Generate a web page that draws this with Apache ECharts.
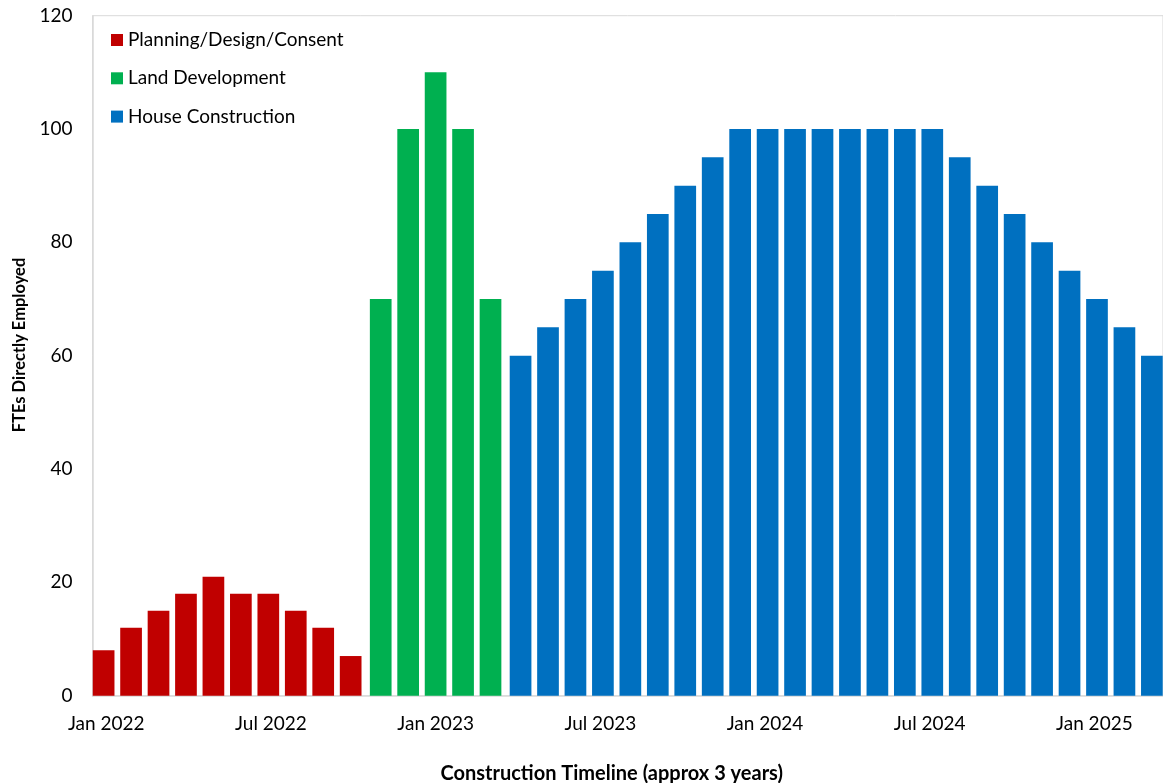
<!DOCTYPE html>
<html>
<head>
<meta charset="utf-8">
<title>FTEs Directly Employed</title>
<script src="https://cdn.jsdelivr.net/npm/echarts@6/dist/echarts.min.js"></script>
<style>
  html, body { margin: 0; padding: 0; background: #fff; }
  #chart { width: 1163px; height: 783px; }
</style>
</head>
<body>
<div id="chart"></div>
<script>
// Monthly timeline, Jan 2022 – Mar 2025
const months = [
  'Jan 2022','Feb 2022','Mar 2022','Apr 2022','May 2022','Jun 2022',
  'Jul 2022','Aug 2022','Sep 2022','Oct 2022','Nov 2022','Dec 2022',
  'Jan 2023','Feb 2023','Mar 2023','Apr 2023','May 2023','Jun 2023',
  'Jul 2023','Aug 2023','Sep 2023','Oct 2023','Nov 2023','Dec 2023',
  'Jan 2024','Feb 2024','Mar 2024','Apr 2024','May 2024','Jun 2024',
  'Jul 2024','Aug 2024','Sep 2024','Oct 2024','Nov 2024','Dec 2024',
  'Jan 2025','Feb 2025','Mar 2025'
];

// FTEs per phase (each phase starts where the previous one ends)
const planningStart = 0;
const planning = [8, 12, 15, 18, 21, 18, 18, 15, 12, 7];
const landStart = 10;
const land = [70, 100, 110, 100, 70];
const houseStart = 15;
const house = [60, 65, 70, 75, 80, 85, 90, 95,
               100, 100, 100, 100, 100, 100, 100, 100,
               95, 90, 85, 80, 75, 70, 65, 60];

const yTicks = { min: 0, max: 120, interval: 20 };

function place(values, start) {
  const out = months.map(() => null);
  values.forEach((v, i) => { out[start + i] = v; });
  return out;
}

const FONT = 'Lato';
const chart = echarts.init(document.getElementById('chart'), null, { renderer: 'canvas' });

const barCommon = {
  type: 'bar',
  barWidth: 21.7,
  barGap: '-88%',
  animation: false
};

chart.setOption({
  backgroundColor: '#ffffff',
  textStyle: { fontFamily: FONT },
  grid: {
    left: 92.5, right: -8.6, top: 15.7, bottom: 87.3,
    show: true, borderColor: '#d9d9d9', borderWidth: 1,
    containLabel: false
  },
  legend: {
    orient: 'vertical',
    left: 111, top: 30,
    padding: 0,
    icon: 'rect',
    itemWidth: 12, itemHeight: 12,
    itemGap: 18.3,
    textStyle: { fontFamily: FONT, fontSize: 19, color: '#000', lineHeight: 20 },
    data: ['Planning/Design/Consent', 'Land Development', 'House Construction']
  },
  xAxis: {
    type: 'category',
    data: months,
    axisTick: { show: false },
    axisLine: { lineStyle: { color: '#d9d9d9', width: 1.5 } },
    axisLabel: { interval: 5, fontFamily: FONT, fontSize: 19, color: '#000', margin: 19 }
  },
  yAxis: {
    type: 'value',
    min: yTicks.min, max: yTicks.max, interval: yTicks.interval,
    axisLine: { show: true, lineStyle: { color: '#d9d9d9', width: 1.5 } },
    axisTick: { show: false },
    splitLine: { show: false },
    axisLabel: { fontFamily: FONT, fontSize: 19, color: '#000', margin: 20 }
  },
  series: [
    Object.assign({}, barCommon, {
      name: 'Planning/Design/Consent',
      data: place(planning, planningStart),
      itemStyle: { color: '#C00000' }
    }),
    Object.assign({}, barCommon, {
      name: 'Land Development',
      data: place(land, landStart),
      itemStyle: { color: '#00B050' }
    }),
    Object.assign({}, barCommon, {
      name: 'House Construction',
      data: place(house, houseStart),
      itemStyle: { color: '#0070C0' }
    })
  ],
  graphic: [
    {
      type: 'text',
      x: 19.5, y: 345,
      rotation: Math.PI / 2,
      style: {
        text: 'FTEs Directly Employed',
        fontFamily: FONT, fontSize: 16.5, fontWeight: 'bold', fill: '#000',
        align: 'center', verticalAlign: 'middle'
      }
    },
    {
      type: 'text',
      x: 611.7, y: 774,
      style: {
        text: 'Construction Timeline (approx 3 years)',
        fontFamily: FONT, fontSize: 20, fontWeight: 'bold', fill: '#000',
        align: 'center', verticalAlign: 'middle'
      }
    }
  ]
});
</script>
</body>
</html>
